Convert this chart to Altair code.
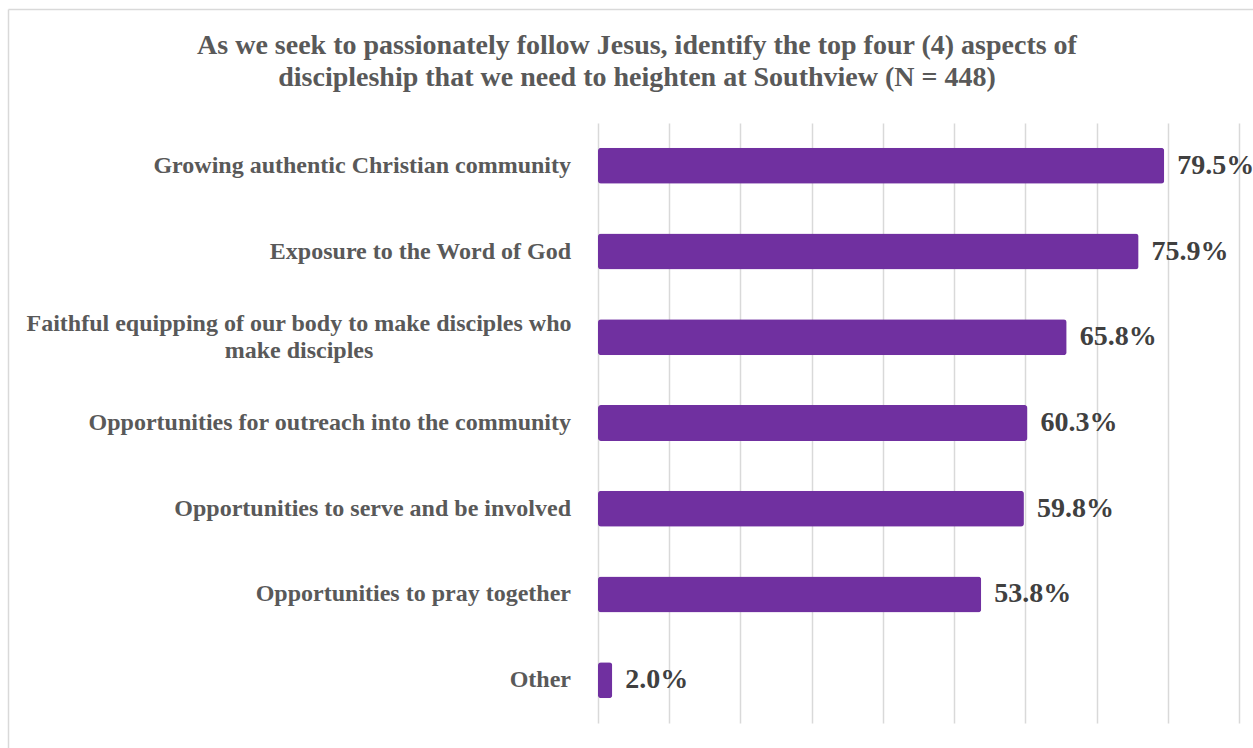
import altair as alt
import pandas as pd

categories = [
    "Growing authentic Christian community",
    "Exposure to the Word of God",
    "Faithful equipping of our body to make disciples who make disciples",
    "Opportunities for outreach into the community",
    "Opportunities to serve and be involved",
    "Opportunities to pray together",
    "Other",
]
values = [79.5, 75.9, 65.8, 60.3, 59.8, 53.8, 2.0]
label_lines = [
    ["Growing authentic Christian community"],
    ["Exposure to the Word of God"],
    ["Faithful equipping of our body to make disciples who", "make disciples"],
    ["Opportunities for outreach into the community"],
    ["Opportunities to serve and be involved"],
    ["Opportunities to pray together"],
    ["Other"],
]
title_lines = [
    "As we seek to passionately follow Jesus, identify the top four (4) aspects of",
    "discipleship that we need to heighten at Southview (N = 448)",
]
x_ticks = [0, 10, 20, 30, 40, 50, 60, 70, 80, 90]

df = pd.DataFrame({
    "category": categories,
    "value": values,
    "lines": label_lines,
    "nlines": [len(l) for l in label_lines],
})

FONT = "Liberation Serif"
W, H = 641, 600
PAD_L, PAD_T = 598, 123

y_enc = alt.Y("category:N", sort=categories,
              scale=alt.Scale(paddingInner=0.58, paddingOuter=0.29),
              axis=None)
x_enc = alt.X("value:Q", scale=alt.Scale(domain=[0, 90], nice=False),
              axis=alt.Axis(values=x_ticks, labels=False, ticks=False, domain=False,
                            grid=True, gridColor="#d9d9d9", gridWidth=1.5, title=None))

base = alt.Chart(df)

bars = base.mark_bar(color="#7030A0", cornerRadius=3).encode(x=x_enc, y=y_enc)

values_text = base.transform_calculate(
    txt="format(datum.value, '.1f') + '%'"
).mark_text(align="left", baseline="middle", dx=13, font=FONT, fontWeight="bold",
            fontSize=28, color="#404040").encode(x="value:Q", y=y_enc, text="txt:N")

single = base.transform_filter("datum.nlines == 1").mark_text(
    align="right", baseline="middle", font=FONT, fontWeight="bold", fontSize=24,
    color="#595959").encode(x=alt.value(-27), y=y_enc, text="lines:N")

multi = base.transform_filter("datum.nlines > 1").mark_text(
    align="center", baseline="middle", font=FONT, fontWeight="bold", fontSize=24,
    color="#595959", lineHeight=27, dy=-13).encode(x=alt.value(-299), y=y_enc, text="lines:N")

title_df = pd.DataFrame({"t": [title_lines]})
title = alt.Chart(title_df).mark_text(
    align="center", baseline="middle", font=FONT, fontWeight="bold", fontSize=28,
    color="#595959", lineHeight=32).encode(
    x=alt.value(637 - PAD_L), y=alt.value(46 - PAD_T), text="t:N")

frame_left = alt.Chart(pd.DataFrame({"a": [0]})).mark_rule(
    color="#d9d9d9", strokeWidth=1.5).encode(
    x=alt.value(8.5 - PAD_L), y=alt.value(9.5 - PAD_T), y2=alt.value(760 - PAD_T))
frame_top = alt.Chart(pd.DataFrame({"a": [0]})).mark_rule(
    color="#d9d9d9", strokeWidth=1.5).encode(
    x=alt.value(8.5 - PAD_L), x2=alt.value(1270 - PAD_L), y=alt.value(9.5 - PAD_T))

chart = alt.layer(frame_left, frame_top, bars, values_text, single, multi, title).properties(
    width=W, height=H,
    autosize=alt.AutoSizeParams(type="none"),
    padding={"left": PAD_L, "top": PAD_T, "right": 1253 - PAD_L - W, "bottom": 748 - PAD_T - H},
).configure(background="white").configure_view(stroke=None)

chart.save("out.html", embed_options={"renderer": "svg", "actions": False})
